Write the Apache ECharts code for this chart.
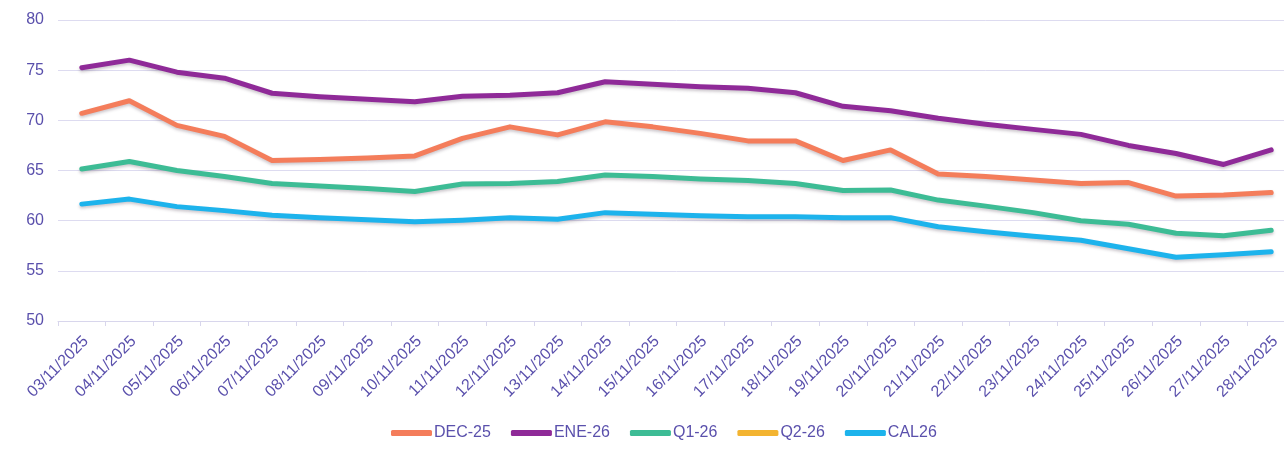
<!DOCTYPE html>
<html>
<head>
<meta charset="utf-8">
<script src="https://cdn.jsdelivr.net/npm/echarts@6/dist/echarts.min.js"></script>
<style>
  html, body { margin: 0; padding: 0; background: #ffffff; overflow: hidden; }
  /* a little wider than the window: the source picture cuts the plot at the right */
  #chart { width: 1295px; height: 450px; }
</style>
</head>
<body>
<div id="chart"></div>
<script>
// dates on the x axis
var categories = [
  "03/11/2025", "04/11/2025", "05/11/2025", "06/11/2025", "07/11/2025", "08/11/2025",
  "09/11/2025", "10/11/2025", "11/11/2025", "12/11/2025", "13/11/2025", "14/11/2025",
  "15/11/2025", "16/11/2025", "17/11/2025", "18/11/2025", "19/11/2025", "20/11/2025",
  "21/11/2025", "22/11/2025", "23/11/2025", "24/11/2025", "25/11/2025", "26/11/2025",
  "27/11/2025", "28/11/2025"
];

var dec25 = [70.7, 71.95, 69.5, 68.4, 66.0, 66.1, 66.25, 66.45, 68.2, 69.35, 68.55, 69.85,
  69.35, 68.7, 67.95, 67.95, 66.0, 67.05, 64.65, 64.4, 64.05, 63.7, 63.8, 62.45, 62.55, 62.8];
var ene26 = [75.25, 76.0, 74.8, 74.2, 72.7, 72.35, 72.1, 71.85, 72.4, 72.5, 72.75, 73.85,
  73.6, 73.35, 73.2, 72.75, 71.4, 70.95, 70.2, 69.6, 69.1, 68.6, 67.5, 66.7, 65.6, 67.05];
var q126 = [65.15, 65.9, 65.0, 64.4, 63.7, 63.45, 63.2, 62.9, 63.65, 63.7, 63.9, 64.55,
  64.4, 64.15, 64.0, 63.7, 63.0, 63.05, 62.05, 61.45, 60.8, 60.0, 59.65, 58.75, 58.5, 59.05];
var q226 = [];
var cal26 = [61.65, 62.15, 61.4, 61.0, 60.55, 60.3, 60.1, 59.9, 60.05, 60.3, 60.15, 60.8,
  60.65, 60.5, 60.4, 60.4, 60.3, 60.3, 59.4, 58.9, 58.45, 58.05, 57.2, 56.35, 56.6, 56.9];

var textColor = "#5a50ac";
var chart = echarts.init(document.getElementById("chart"));

function line(name, data, color) {
  return {
    name: name,
    type: "line",
    data: data,
    symbol: "none",
    smooth: false,
    animation: false,
    lineStyle: {
      width: 5,
      color: color,
      cap: "round",
      join: "round",
      shadowColor: "rgba(60, 40, 60, 0.25)",
      shadowBlur: 3,
      shadowOffsetY: 2
    },
    itemStyle: { color: color }
  };
}

chart.setOption({
  backgroundColor: "#ffffff",
  textStyle: { fontFamily: "Liberation Sans, Arial, sans-serif" },
  grid: { left: 58, right: 0, top: 20, bottom: 129 },
  legend: {
    left: 386,
    top: 420,
    itemWidth: 41,
    itemHeight: 6,
    itemGap: 20,
    icon: "roundRect",
    textStyle: { color: textColor, fontSize: 16, padding: [0, 0, 0, -3] },
    data: ["DEC-25", "ENE-26", "Q1-26", "Q2-26", "CAL26"]
  },
  xAxis: {
    type: "category",
    data: categories,
    boundaryGap: true,
    axisLine: { show: true, lineStyle: { color: "#d8d6ec" } },
    axisTick: { show: true, length: 5, lineStyle: { color: "#d8d6ec" } },
    axisLabel: {
      color: textColor,
      fontSize: 16,
      rotate: 45,
      interval: 0,
      margin: 22,
      padding: [0, -6, 0, 0]
    }
  },
  yAxis: {
    type: "value",
    min: 50,
    max: 80,
    interval: 5,
    axisLine: { show: false },
    axisTick: { show: false },
    axisLabel: { color: textColor, fontSize: 16, margin: 14 },
    splitLine: { lineStyle: { color: "#dddbf0", width: 1 } }
  },
  series: [
    line("DEC-25", dec25, "#f47d5b"),
    line("ENE-26", ene26, "#8f2a98"),
    line("Q1-26", q126, "#3dbc95"),
    line("Q2-26", q226, "#f3b431"),
    line("CAL26", cal26, "#1db3ec")
  ]
});
</script>
</body>
</html>
